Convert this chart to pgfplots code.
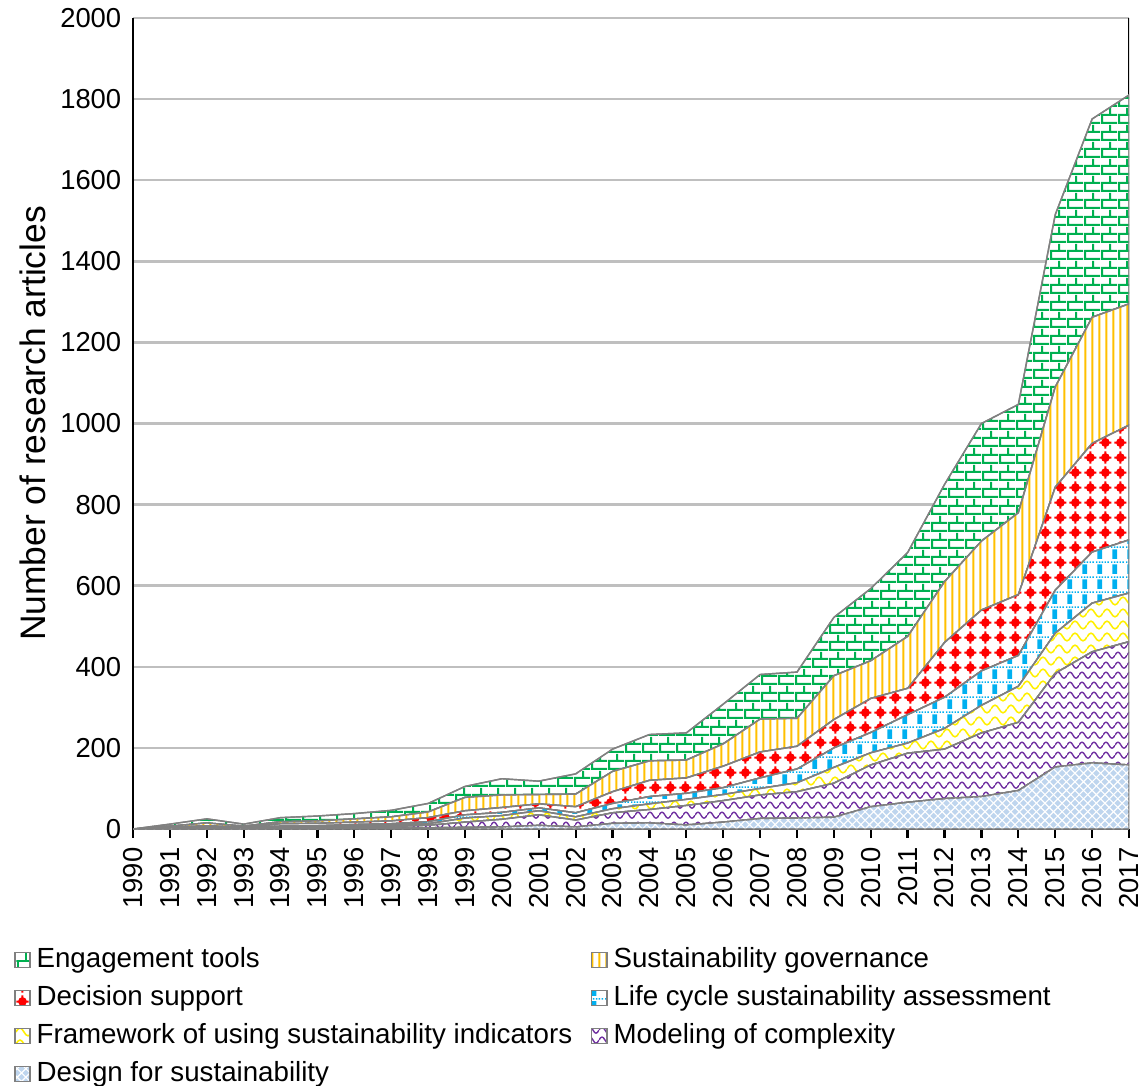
\documentclass[border=0pt]{standalone}
\usepackage{fontspec}
\setmainfont{Liberation Sans}
\usepackage{pgfplots}
\pgfplotsset{compat=1.18}
\usepackage{pgfplotstable}
\usetikzlibrary{patterns}

\definecolor{cGreen}{RGB}{0,176,80}
\definecolor{cOrange}{RGB}{255,192,0}
\definecolor{cRed}{RGB}{255,0,0}
\definecolor{cBlue}{RGB}{0,176,240}
\definecolor{cYellow}{RGB}{255,240,0}
\definecolor{cPurple}{RGB}{112,48,160}
\definecolor{cLight}{RGB}{190,213,238}
\definecolor{cGrid}{RGB}{191,191,191}

\pgfdeclarepatternformonly{xbricks}{\pgfpointorigin}{\pgfpoint{5.8pt}{5.8pt}}{\pgfpoint{5.8pt}{5.8pt}}{%
  \pgfsetlinewidth{0.7pt}%
  \pgfpathmoveto{\pgfpoint{0pt}{0.4pt}}\pgfpathlineto{\pgfpoint{5.8pt}{0.4pt}}%
  \pgfpathmoveto{\pgfpoint{0pt}{3.3pt}}\pgfpathlineto{\pgfpoint{5.8pt}{3.3pt}}%
  \pgfpathmoveto{\pgfpoint{0.4pt}{0.4pt}}\pgfpathlineto{\pgfpoint{0.4pt}{3.3pt}}%
  \pgfpathmoveto{\pgfpoint{3.3pt}{3.3pt}}\pgfpathlineto{\pgfpoint{3.3pt}{5.8pt}}%
  \pgfpathmoveto{\pgfpoint{3.3pt}{0pt}}\pgfpathlineto{\pgfpoint{3.3pt}{0.4pt}}%
  \pgfusepath{stroke}}

\pgfdeclarepatternformonly{xvlines}{\pgfpointorigin}{\pgfpoint{2.4pt}{1pt}}{\pgfpoint{2.4pt}{1pt}}{%
  \pgfsetlinewidth{0.75pt}%
  \pgfpathmoveto{\pgfpoint{1.2pt}{-0.1pt}}\pgfpathlineto{\pgfpoint{1.2pt}{1.1pt}}%
  \pgfusepath{stroke}}

\pgfdeclarepatternformonly{xdots}{\pgfpointorigin}{\pgfpoint{5.4pt}{5.4pt}}{\pgfpoint{5.4pt}{5.4pt}}{%
  \pgfpathcircle{\pgfpoint{2.7pt}{2.7pt}}{1.6pt}\pgfusepath{fill}%
  \pgfsetlinewidth{0.7pt}%
  \pgfpathmoveto{\pgfpoint{0.5pt}{2.7pt}}\pgfpathlineto{\pgfpoint{4.9pt}{2.7pt}}%
  \pgfpathmoveto{\pgfpoint{2.7pt}{0.5pt}}\pgfpathlineto{\pgfpoint{2.7pt}{4.9pt}}%
  \pgfusepath{stroke}}

\pgfdeclarepatternformonly{xlcsa}{\pgfpointorigin}{\pgfpoint{5.3pt}{5.3pt}}{\pgfpoint{5.3pt}{5.3pt}}{%
  \pgfpathrectangle{\pgfpoint{0.5pt}{0pt}}{\pgfpoint{1.8pt}{3.6pt}}%
  \pgfpathrectangle{\pgfpoint{0pt}{4.1pt}}{\pgfpoint{0.55pt}{0.55pt}}%
  \pgfpathrectangle{\pgfpoint{1.05pt}{4.1pt}}{\pgfpoint{0.55pt}{0.55pt}}%
  \pgfpathrectangle{\pgfpoint{2.1pt}{4.1pt}}{\pgfpoint{0.55pt}{0.55pt}}%
  \pgfpathrectangle{\pgfpoint{3.15pt}{4.1pt}}{\pgfpoint{0.55pt}{0.55pt}}%
  \pgfpathrectangle{\pgfpoint{4.2pt}{4.1pt}}{\pgfpoint{0.55pt}{0.55pt}}%
  \pgfusepath{fill}}

\pgfdeclarepatternformonly{xwaveP}{\pgfpointorigin}{\pgfpoint{4.2pt}{3.6pt}}{\pgfpoint{4.2pt}{3.6pt}}{%
  \pgfsetlinewidth{0.5pt}%
  \pgfpathmoveto{\pgfpoint{0pt}{1.8pt}}%
  \pgfpathcurveto{\pgfpoint{0.75pt}{3.3pt}}{\pgfpoint{1.35pt}{3.3pt}}{\pgfpoint{2.1pt}{1.8pt}}%
  \pgfpathcurveto{\pgfpoint{2.85pt}{0.3pt}}{\pgfpoint{3.45pt}{0.3pt}}{\pgfpoint{4.2pt}{1.8pt}}%
  \pgfusepath{stroke}}

\pgfdeclarepatternformonly{xwaveY}{\pgfpointorigin}{\pgfpoint{5.6pt}{4.2pt}}{\pgfpoint{5.6pt}{4.2pt}}{%
  \pgfsetlinewidth{0.55pt}%
  \pgfpathmoveto{\pgfpoint{0pt}{2.1pt}}%
  \pgfpathcurveto{\pgfpoint{1pt}{3.9pt}}{\pgfpoint{1.8pt}{3.9pt}}{\pgfpoint{2.8pt}{2.1pt}}%
  \pgfpathcurveto{\pgfpoint{3.8pt}{0.3pt}}{\pgfpoint{4.6pt}{0.3pt}}{\pgfpoint{5.6pt}{2.1pt}}%
  \pgfusepath{stroke}}

\pgfplotstableread{
year design model frame lcsa decision gov engage
1990 0 0 0 0 0 0 0
1991 0 1 1 1 1 3 5
1992 1 1 2 1 3 7 10
1993 0 1 1 1 1 3 5
1994 1 2 2 2 6 5 10
1995 1 3 2 2 6 6 12
1996 2 3 3 3 6 8 13
1997 2 4 4 3 7 10 16
1998 3 6 4 5 10 14 21
1999 4 13 10 8 10 33 27
2000 5 19 9 8 12 31 40
2001 9 26 10 7 10 23 33
2002 5 17 8 10 15 31 50
2003 14 26 10 13 29 50 55
2004 15 33 14 18 40 48 65
2005 10 48 15 15 38 44 67
2006 17 53 15 17 53 55 98
2007 26 58 16 26 64 81 110
2008 27 65 22 34 56 69 114
2009 29 84 39 48 70 108 144
2010 55 103 30 50 84 93 178
2011 66 121 25 70 65 128 207
2012 75 122 51 77 135 150 240
2013 80 157 68 85 150 170 290
2014 95 168 89 76 150 202 267
2015 153 231 99 106 254 247 425
2016 163 274 120 126 268 311 489
2017 158 304 120 131 283 299 515
}\datatable

\begin{document}
\begin{tikzpicture}
\begin{axis}[
  scale only axis, width=348.9pt, height=284.1pt,
  xmin=1990, xmax=2017, ymin=0, ymax=2000,
  xtick={1990,...,2017}, ytick={0,200,...,2000},
  stack plots=y,
  axis x line*=bottom, axis y line*=left,
  axis line style={black, line width=0.8pt},
  ymajorgrids,
  grid style={draw=cGrid, line width=0.9pt},
  major tick length=3pt, tick align=outside,
  x tick style={black, line width=0.8pt},
  y tick style={draw=none},
  xticklabel style={rotate=90, anchor=east},
  yticklabel style={xshift=2.4pt},
  tick label style={font=\fontsize{9.6}{11}\selectfont},
  /pgf/number format/1000 sep={},
  /pgf/number format/assume math mode=true,
  ylabel={Number of research articles},
  every axis y label/.style={at={(axis description cs:-0.1003,0.5)}, rotate=90, anchor=center},
  ylabel style={font=\fontsize{12.4}{14}\selectfont},
  reverse legend,
  legend columns=2,
  legend cell align=left,
  legend style={at={(-0.12,-0.1387)}, anchor=north west, draw=none, fill=none,
    inner sep=0pt, font=\fontsize{9.7}{11.6}\selectfont,
    /tikz/every even column/.append style={column sep=4.6pt}, row sep=0.8pt},
  legend image code/.code={\draw[#1] (-0.8pt,-2.6pt) rectangle (4.6pt,2.6pt);},
  every axis plot/.append style={draw=gray, line width=0.5pt},
]
\addplot[fill=cLight, postaction={pattern=crosshatch, pattern color=white}]
  table[x=year, y=design]{\datatable} \closedcycle;
\addlegendentry{Design for sustainability}
\addplot[fill=white, postaction={pattern=xwaveP, pattern color=cPurple}]
  table[x=year, y=model]{\datatable} \closedcycle;
\addlegendentry{Modeling of complexity}
\addplot[fill=white, postaction={pattern=xwaveY, pattern color=cYellow}]
  table[x=year, y=frame]{\datatable} \closedcycle;
\addlegendentry{Framework of using sustainability indicators}
\addplot[fill=white, postaction={pattern=xlcsa, pattern color=cBlue}]
  table[x=year, y=lcsa]{\datatable} \closedcycle;
\addlegendentry{Life cycle sustainability assessment}
\addplot[fill=white, postaction={pattern=xdots, pattern color=cRed}]
  table[x=year, y=decision]{\datatable} \closedcycle;
\addlegendentry{Decision support}
\addplot[fill=white, postaction={pattern=xvlines, pattern color=cOrange}]
  table[x=year, y=gov]{\datatable} \closedcycle;
\addlegendentry{Sustainability governance}
\addplot[fill=white, postaction={pattern=xbricks, pattern color=cGreen}]
  table[x=year, y=engage]{\datatable} \closedcycle;
\addlegendentry{Engagement tools}
\draw[black, line width=0.8pt] (rel axis cs:1,0) -- (rel axis cs:1,1);
\coordinate (BL) at (rel axis cs:0,0);
\coordinate (TR) at (rel axis cs:1,1);
\end{axis}
\pgfresetboundingbox
\path[use as bounding box] ([shift={(-46.6pt,-90pt)}]BL) rectangle ([shift={(4.55pt,6.3pt)}]TR);
\end{tikzpicture}
\end{document}
